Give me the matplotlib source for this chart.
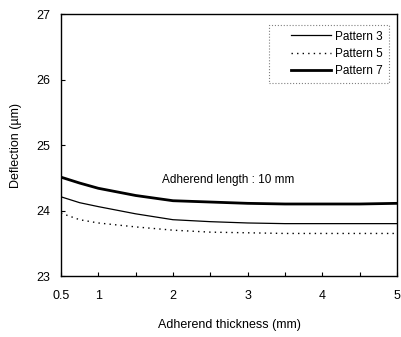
import matplotlib
matplotlib.use("Agg")
import matplotlib.pyplot as plt
from matplotlib.lines import Line2D
from matplotlib.legend_handler import HandlerLine2D

thickness = [0.5, 0.75, 1, 1.5, 2, 2.5, 3, 3.5, 4, 4.5, 5]
pattern3 = [24.21, 24.12, 24.06, 23.95, 23.86, 23.83, 23.81, 23.80, 23.80, 23.80, 23.80]
pattern5 = [23.96, 23.86, 23.81, 23.75, 23.70, 23.67, 23.66, 23.65, 23.65, 23.65, 23.65]
pattern7 = [24.51, 24.42, 24.34, 24.23, 24.15, 24.13, 24.11, 24.10, 24.10, 24.10, 24.11]

xticks = [0.5, 1, 2, 3, 4, 5]
xtick_labels = ["0.5", "1", "2", "3", "4", "5"]
yticks = [23, 24, 25, 26, 27]

plt.rcParams["font.family"] = ["Liberation Sans", "DejaVu Sans"]
plt.rcParams["font.size"] = 8.5

fig = plt.figure(figsize=(4.01, 3.37), dpi=100)
ax = fig.add_axes([0.152, 0.181, 0.838, 0.777])

ax.plot(thickness, pattern3, color="black", lw=0.9, label="Pattern 3")
ax.plot(thickness, pattern5, color="black", lw=1.0, ls=(0, (1, 3)), label="Pattern 5")
ax.plot(thickness, pattern7, color="black", lw=2.0, label="Pattern 7")

ax.set_xlim(0.5, 5)
ax.set_ylim(23, 27)
ax.set_xticks(xticks)
ax.set_xticklabels(xtick_labels)
ax.set_xticks([1.5, 2.5, 3.5, 4.5], minor=True)
ax.set_yticks(yticks)
ax.tick_params(which="both", direction="in", length=3, width=0.8)
ax.tick_params(axis="x", labelsize=9, pad=10)
ax.tick_params(axis="y", labelsize=9, pad=8)
for s in ax.spines.values():
    s.set_linewidth(1.0)

ax.text(1.85, 24.47, "Adherend length : 10 mm", ha="left", va="center", fontsize=8.5)

# extra room left of the legend lines, like the original box
leg = ax.legend(loc="upper right", bbox_to_anchor=(0.975, 0.96), fontsize=8.5,
                handlelength=4.75, handletextpad=0.3, borderpad=0.5,
                labelspacing=0.45, borderaxespad=0, fancybox=False,
                framealpha=1, handler_map={Line2D: HandlerLine2D(xpad=1.3)})
frame = leg.get_frame()
frame.set_edgecolor("gray")
frame.set_linestyle(":")
frame.set_linewidth(0.8)

ax.set_xlabel("Adherend thickness (mm)", fontsize=9, labelpad=12)
ax.set_ylabel("Deflection (\u00b5m)", fontsize=9, labelpad=10)

fig.savefig("out.png", dpi=100)
